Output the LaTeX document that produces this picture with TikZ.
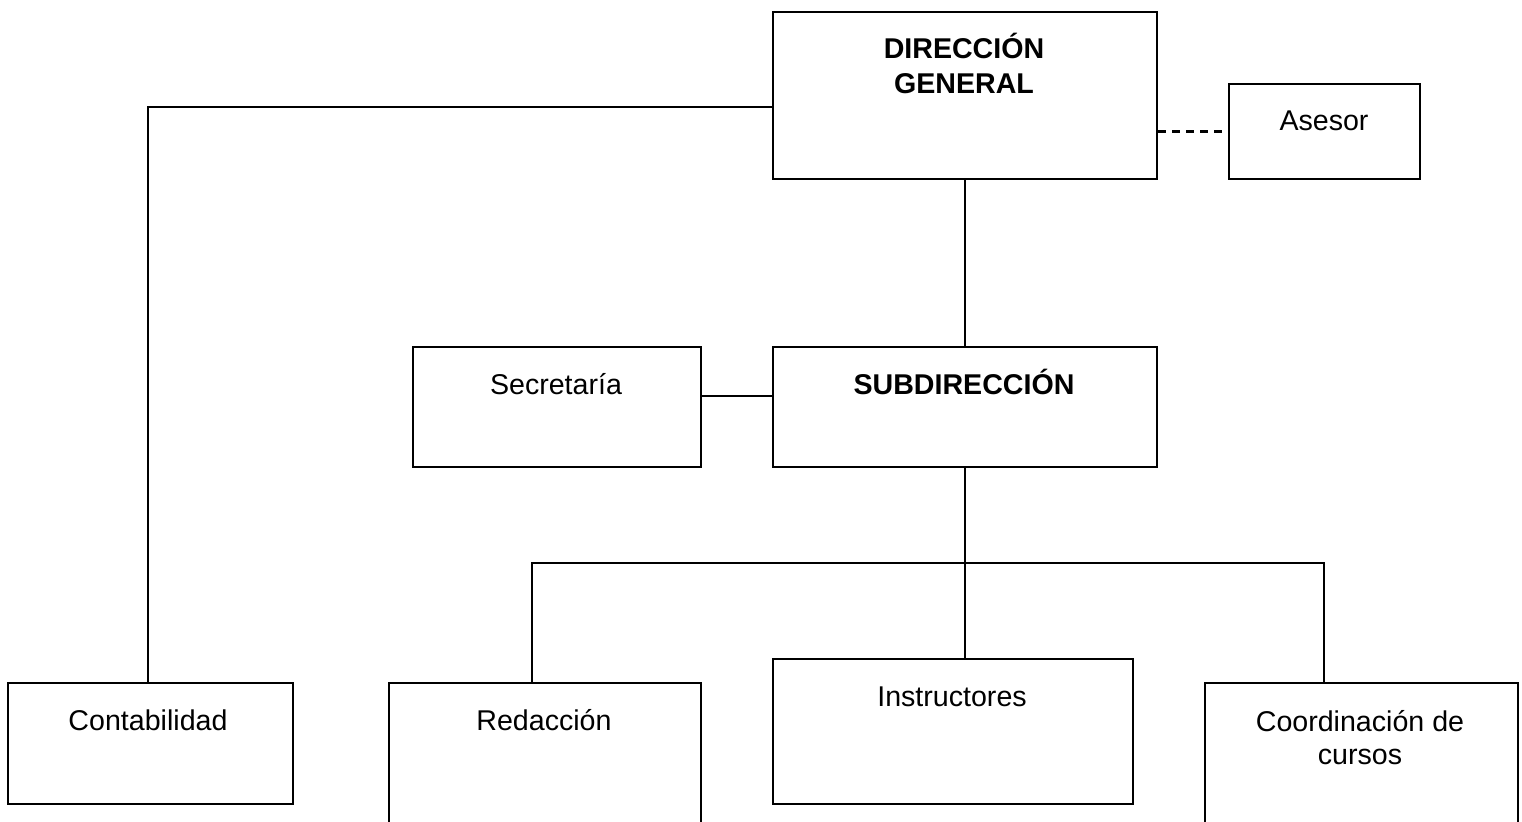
\documentclass[tikz,border=0pt]{standalone}
\usepackage{fontspec}
\setmainfont{Liberation Sans}
\tikzset{
  box/.style={draw, line width=1.1pt, anchor=north west, inner sep=0pt},
  lbl/.style={anchor=base, inner sep=0pt, align=center, font=\fontsize{14.3}{17.5}\selectfont},
  conn/.style={line width=1.1pt}
}
\begin{document}
\begin{tikzpicture}[x=0.5pt,y=-0.5pt]
    \clip (0,0) rectangle (1522,822);
    \fill[white] (0,0) rectangle (1522,822);
    % boxes
    \node[box, minimum width=192pt, minimum height=83.5pt] (dg) at (772,11) {};
    \node[box, minimum width=95.5pt, minimum height=47.5pt] (asesor) at (1228,83) {};
    \node[box, minimum width=144pt, minimum height=60pt] (sec) at (412,346) {};
    \node[box, minimum width=192pt, minimum height=60pt] (sub) at (772,346) {};
    \node[box, minimum width=142.5pt, minimum height=60.5pt] (cont) at (7,682) {};
    \node[box, minimum width=156pt, minimum height=80pt] (red) at (388,682) {};
    \node[box, minimum width=180pt, minimum height=72.5pt] (inst) at (772,658) {};
    \node[box, minimum width=156.5pt, minimum height=80pt] (coord) at (1204,682) {};
    % texts (base = last line)
    \node[lbl, font=\fontsize{14.3}{17.5}\selectfont\bfseries] (dgt) at (964,94) {DIRECCIÓN\\GENERAL};
    \node[lbl] (asesort) at (1324,131) {Asesor};
    \node[lbl] (sect) at (556,395) {Secretaría};
    \node[lbl, font=\fontsize{14.3}{17.5}\selectfont\bfseries] (subt) at (964,395) {SUBDIRECCIÓN};
    \node[lbl] (contt) at (148,731) {Contabilidad};
    \node[lbl] (redt) at (544,731) {Redacción};
    \node[lbl] (instt) at (952,707) {Instructores};
    \node[lbl, font=\fontsize{14.3}{16.5}\selectfont] (coordt) at (1360,765) {Coordinación de\\cursos};
    % connectors
    \coordinate (ll) at (148,107);
    \coordinate (bl) at (532,563);
    \coordinate (br) at (1324,563);
    \draw[conn] (dg.west |- ll) -- (ll) -- (ll |- cont.north);
    \draw[conn, dash pattern=on 4pt off 3pt] (asesor.west -| dg.east) -- (asesor.west);
    \draw[conn] (dg.south) -- (sub.north);
    \draw[conn] ([yshift=5.5pt]sec.east) -- ([yshift=5.5pt]sub.west);
    \draw[conn] (sub.south) -- (sub.south |- inst.north);
    \draw[conn] (bl |- red.north) -- (bl) -- (br) -- (br |- coord.north);
\end{tikzpicture}
\end{document}
